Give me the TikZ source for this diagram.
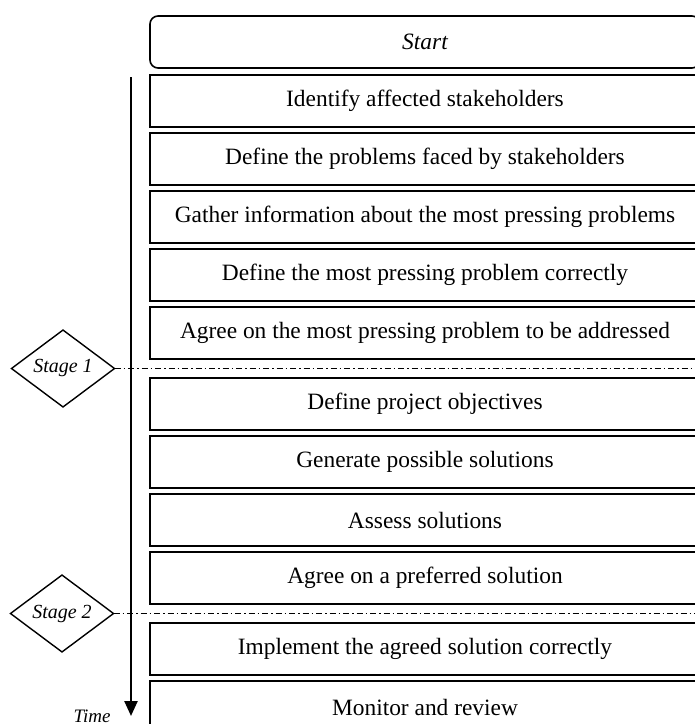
\documentclass[tikz,border=0pt]{standalone}
\usepackage{fontspec}
\setmainfont{Liberation Serif}
\usetikzlibrary{positioning,shapes.geometric,arrows.meta}
\begin{document}
\begin{tikzpicture}[x=0.5pt,y=-0.5pt,node distance=3pt,
  stepbox/.style={rectangle,draw,line width=0.8pt,outer sep=0pt,minimum width=275pt,minimum height=26pt,inner sep=0pt,font=\fontsize{11.7}{14}\selectfont},
  startbox/.style={stepbox,rounded corners=4pt,font=\fontsize{11.7}{14}\selectfont\itshape},
  stagebox/.style={diamond,draw,line width=0.7pt,outer sep=0pt,minimum width=51.5pt,minimum height=36pt,inner sep=0pt,font=\fontsize{10}{12}\selectfont\itshape},
  stageline/.style={line width=0.5pt,dash pattern=on 3pt off 1.5pt on 0.75pt off 1.5pt}]
\path[use as bounding box,clip] (0,0) rectangle (695,724);
\node[startbox] (start) at (425,42) {Start};
\node[stepbox,below=3.5pt of start] (identify) {Identify affected stakeholders};
\node[stepbox,below=of identify] (define) {Define the problems faced by stakeholders};
\node[stepbox,below=of define] (gather) {Gather information about the most pressing problems};
\node[stepbox,below=of gather] (pressing) {Define the most pressing problem correctly};
\node[stepbox,below=of pressing] (agree) {Agree on the most pressing problem to be addressed};
\node[stepbox,below=9.5pt of agree] (objectives) {Define project objectives};
\node[stepbox,below=of objectives] (generate) {Generate possible solutions};
\node[stepbox,below=of generate] (assess) {Assess solutions};
\node[stepbox,below=of assess] (preferred) {Agree on a preferred solution};
\node[stepbox,below=9.5pt of preferred] (implement) {Implement the agreed solution correctly};
\node[stepbox,below=of implement] (monitor) {Monitor and review};

\path (agree.south) -- (objectives.north) coordinate[midway] (gapA);
\path (preferred.south) -- (implement.north) coordinate[midway] (gapB);
\node[stagebox] (stage1) at (gapA -| 63,0) {Stage 1};
\node[stagebox] (stage2) at (gapB -| 62,0) {Stage 2};
\draw[stageline] (stage1.east) -- (stage1.east -| start.east);
\draw[stageline] (stage2.east) -- (stage2.east -| start.east);

\coordinate (ttop) at (131,77);
\coordinate (tend) at (131,716);
\draw[line width=1.2pt,-{Triangle[width=6.5pt,length=7.5pt]}] (ttop) -- (tend);
\node[font=\fontsize{9.5}{11}\selectfont\itshape] (time) at (92,716) {Time};
\end{tikzpicture}
\end{document}
